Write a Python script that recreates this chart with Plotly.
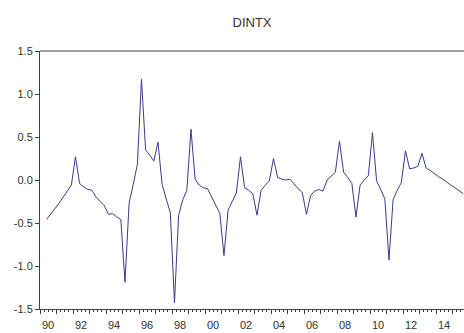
import plotly.graph_objects as go

# Quarterly series DINTX, 1990Q2 .. 2015Q3
start_year = 1990
start_quarter = 2
values = [
    -0.46, -0.40, -0.33,                 # 1990 Q2-Q4
    -0.27, -0.20, -0.13, -0.06,          # 1991
    0.27, -0.04, -0.08, -0.11,           # 1992
    -0.12, -0.20, -0.25, -0.30,          # 1993
    -0.40, -0.39, -0.43, -0.46,          # 1994
    -1.19, -0.27, -0.05, 0.18,           # 1995
    1.17, 0.35, 0.29, 0.22,              # 1996
    0.44, -0.05, -0.22, -0.38,           # 1997
    -1.43, -0.41, -0.23, -0.12,          # 1998
    0.59, 0.01, -0.06, -0.09,            # 1999
    -0.10, -0.20, -0.29, -0.39,          # 2000
    -0.88, -0.35, -0.25, -0.15,          # 2001
    0.27, -0.09, -0.12, -0.16,           # 2002
    -0.41, -0.12, -0.06, -0.01,          # 2003
    0.25, 0.03, 0.01, 0.00,              # 2004
    0.01, -0.05, -0.10, -0.15,           # 2005
    -0.40, -0.18, -0.13, -0.11,          # 2006
    -0.13, 0.00, 0.05, 0.09,             # 2007
    0.45, 0.09, 0.03, -0.04,             # 2008
    -0.43, -0.06, 0.00, 0.05,            # 2009
    0.55, -0.01, -0.11, -0.22,           # 2010
    -0.93, -0.23, -0.12, -0.03,          # 2011
    0.34, 0.13, 0.14, 0.16,              # 2012
    0.31, 0.14, 0.11, 0.07,              # 2013
    0.04, 0.01, -0.03, -0.06,            # 2014
    -0.09, -0.13, -0.16,                 # 2015 Q1-Q3
]
year_ticks = list(range(1990, 2016))
year_labels = [f"{y % 100:02d}" if (y - 1990) % 2 == 0 else "" for y in year_ticks]
y_ticks = [1.5, 1.0, 0.5, 0.0, -0.5, -1.0, -1.5]
title_text = "DINTX"

# positions of quarterly observations (in fractional years)
x = []
for i in range(len(values)):
    q = start_quarter - 1 + i
    x.append(start_year + q // 4 + (q % 4) * 0.25 + 0.15)

W, H = 464, 333
ml, mr, mt, mb = 40, 0, 51, 24
px_per_year = 16.5
x_end = 1990 + (W - ml - mr) / px_per_year

fig = go.Figure()
fig.add_trace(go.Scatter(x=x, y=values, mode="lines",
                         line=dict(color="#3b3b8f", width=1),
                         hoverinfo="skip", showlegend=False))

axis_col = "#404040"
font_col = "#333333"

fig.update_layout(
    width=W, height=H,
    margin=dict(l=ml, r=mr, t=mt, b=mb, pad=0),
    paper_bgcolor="white", plot_bgcolor="white",
    title=dict(text=title_text, x=0.5, xref="paper", xanchor="center",
               y=1 - 22 / H, yref="container", yanchor="middle",
               font=dict(family="Arial, Liberation Sans", size=13, color=font_col)),
    font=dict(family="Arial, Liberation Sans", size=11, color=font_col),
    xaxis=dict(range=[1990, x_end], showgrid=False, zeroline=False,
               showline=True, linecolor=axis_col, linewidth=1,
               tickmode="array", tickvals=year_ticks, ticktext=year_labels,
               ticks="outside", ticklen=4, tickcolor=axis_col, tickwidth=1,
               ticklabelshift=8, ticklabelstandoff=2,
               tickfont=dict(size=11, color=font_col),
               minor=dict(dtick=0.25, tick0=1990, ticks="outside", ticklen=2,
                          tickcolor=axis_col, tickwidth=1, showgrid=False)),
    yaxis=dict(range=[-1.5, 1.5], showgrid=False, zeroline=False,
               showline=True, linecolor=axis_col, linewidth=1,
               tickmode="array", tickvals=y_ticks,
               ticktext=[f"{v:.1f}" for v in y_ticks],
               ticks="outside", ticklen=4, tickcolor=axis_col, tickwidth=1,
               tickfont=dict(size=11, color=font_col)),
    shapes=[dict(type="line", xref="paper", yref="paper", x0=0, x1=1, y0=1, y1=1,
                 line=dict(color=axis_col, width=1))],
)

fig.write_html("out.html")
